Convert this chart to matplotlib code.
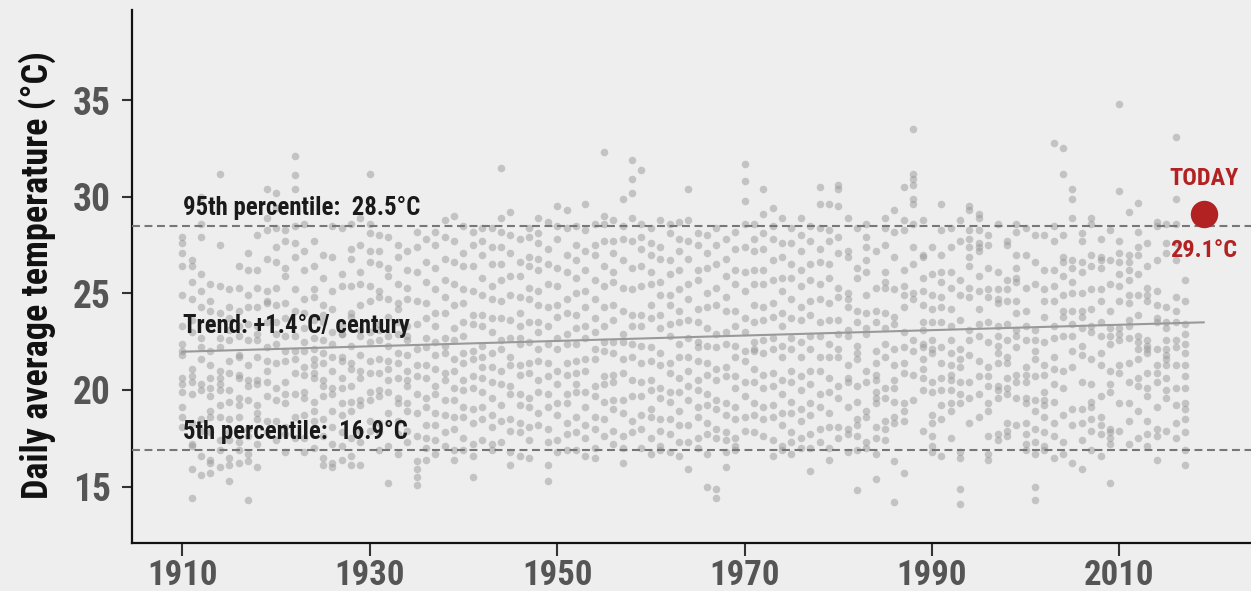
import matplotlib
matplotlib.use("Agg")
import matplotlib.pyplot as plt
import numpy as np

plt.rcParams['font.family'] = ['Roboto Condensed', 'Roboto', 'DejaVu Sans']

# daily average temperature samples, one list per year
years = list(range(1910, 2018))
temps = [
    [27.9, 27.6, 27.1, 26.4, 24.9, 23.3, 22.0, 21.8, 20.6, 20.3, 19.1, 18.6, 18.1, 22.4, 19.9],
    [14.4, 17.2, 18.3, 19.8, 20.4, 21.1, 23.0, 23.6, 24.7, 25.6, 26.7, 26.4, 20.7, 15.9, 17.1],
    [30.0, 28.6, 27.9, 26.0, 25.1, 24.3, 21.6, 20.3, 20.0, 18.5, 17.9, 15.6, 16.6, 22.7, 22.2],
    [25.5, 24.6, 24.1, 22.0, 20.6, 19.7, 18.9, 18.6, 17.8, 16.4, 15.7, 16.2, 23.4, 21.3, 20.1],
    [31.2, 27.5, 25.4, 24.0, 22.7, 21.0, 20.6, 20.3, 19.2, 18.6, 17.4, 16.9, 16.0, 22.2, 20.0],
    [25.2, 23.7, 23.1, 21.5, 20.9, 20.0, 19.4, 17.8, 17.4, 16.5, 15.3, 16.1, 22.6, 18.5, 24.3],
    [26.4, 25.3, 23.3, 22.8, 21.8, 20.8, 20.6, 19.6, 19.2, 18.6, 17.3, 16.9, 16.2, 24.1, 21.7],
    [27.1, 26.2, 24.9, 24.3, 22.6, 21.3, 20.5, 19.5, 18.0, 17.6, 16.7, 16.3, 14.3, 23.4, 20.2],
    [28.0, 26.2, 25.3, 24.3, 23.3, 22.6, 21.7, 20.5, 20.3, 19.2, 18.8, 18.5, 17.2, 16.0, 22.9],
    [30.4, 28.9, 28.3, 26.8, 25.1, 24.6, 23.5, 22.2, 21.5, 20.4, 19.7, 18.4, 17.8, 21.0, 24.5],
    [30.2, 29.4, 28.4, 27.4, 26.6, 25.3, 24.4, 23.5, 22.4, 21.4, 20.1, 19.5, 18.4, 17.4, 22.9],
    [28.3, 27.7, 26.3, 25.9, 24.5, 22.8, 22.0, 21.5, 20.4, 19.8, 19.3, 18.1, 17.7, 16.8, 23.7],
    [32.1, 31.1, 30.4, 28.5, 27.6, 26.9, 25.2, 24.1, 22.8, 22.0, 20.9, 19.8, 18.6, 17.5, 21.6],
    [28.6, 27.2, 26.2, 24.7, 24.0, 23.2, 22.0, 21.2, 20.8, 19.9, 19.6, 18.7, 17.5, 16.8, 22.5],
    [27.7, 26.4, 25.2, 24.8, 23.6, 22.7, 21.3, 20.9, 20.6, 19.4, 18.9, 18.4, 17.0, 22.1, 21.6],
    [27.0, 25.8, 24.4, 23.9, 23.5, 22.6, 21.9, 21.4, 20.2, 19.7, 18.5, 17.6, 16.5, 16.1, 20.5],
    [28.5, 26.9, 25.1, 24.2, 23.0, 22.4, 21.0, 20.1, 19.8, 18.9, 18.1, 17.2, 16.2, 16.0, 21.7],
    [28.4, 26.0, 25.4, 23.3, 22.9, 21.7, 21.5, 20.6, 20.1, 19.3, 18.7, 17.8, 17.1, 16.4, 22.9],
    [28.6, 27.3, 26.8, 25.4, 24.0, 23.8, 22.3, 21.4, 21.1, 20.2, 19.4, 18.9, 17.5, 16.6, 16.1],
    [28.9, 27.5, 26.1, 25.5, 24.4, 23.1, 22.8, 21.8, 21.0, 20.6, 19.5, 19.2, 17.9, 17.3, 16.1],
    [31.2, 28.6, 28.1, 27.2, 26.6, 25.4, 24.6, 23.0, 22.5, 21.5, 20.9, 19.9, 19.5, 18.4, 17.9],
    [28.0, 27.2, 26.5, 25.1, 24.8, 23.4, 22.6, 21.6, 20.9, 20.0, 19.7, 18.3, 17.8, 16.9, 23.1],
    [27.9, 26.3, 25.9, 24.7, 23.8, 22.8, 22.3, 21.5, 20.5, 19.9, 18.8, 18.3, 17.1, 15.2, 21.1],
    [27.5, 26.9, 25.5, 24.5, 23.5, 22.9, 21.9, 21.4, 20.6, 19.6, 19.3, 18.4, 17.7, 16.7, 24.2],
    [27.2, 26.2, 25.3, 24.7, 23.3, 22.6, 21.8, 21.0, 20.5, 19.3, 18.9, 17.9, 17.3, 22.8, 20.2],
    [28.2, 27.4, 26.1, 24.6, 23.4, 22.1, 21.3, 20.7, 19.8, 18.8, 17.6, 16.3, 15.9, 15.5, 15.1],
    [27.8, 26.6, 25.6, 24.5, 23.7, 22.7, 22.2, 21.3, 20.6, 19.6, 19.1, 18.2, 17.5, 17.0, 16.4],
    [28.2, 27.5, 26.3, 25.2, 24.0, 23.3, 22.5, 21.8, 21.1, 20.2, 19.8, 18.8, 18.2, 17.4, 16.7],
    [28.8, 27.9, 26.8, 25.7, 24.8, 24.0, 22.7, 21.9, 20.9, 20.5, 19.5, 18.7, 17.8, 17.1, 22.3],
    [29.0, 27.7, 26.6, 25.5, 24.4, 23.2, 22.6, 21.6, 21.0, 20.1, 19.5, 18.6, 18.0, 16.9, 16.4],
    [28.5, 27.1, 26.4, 25.2, 24.5, 23.5, 22.8, 21.9, 21.4, 20.5, 20.0, 19.1, 18.6, 17.5, 16.9],
    [28.2, 27.5, 26.4, 25.1, 23.9, 23.4, 22.0, 21.6, 20.7, 20.1, 19.0, 18.3, 17.2, 16.6, 15.5],
    [28.4, 27.7, 27.0, 25.8, 24.9, 23.9, 23.3, 22.3, 21.7, 20.6, 19.9, 19.1, 18.5, 17.4, 21.2],
    [28.4, 27.4, 26.5, 25.4, 24.7, 23.7, 23.0, 21.9, 21.2, 20.4, 19.6, 18.7, 18.1, 17.2, 16.9],
    [31.5, 28.9, 28.2, 27.4, 26.5, 25.7, 24.6, 23.7, 22.6, 22.1, 21.0, 20.3, 19.2, 18.4, 17.3],
    [29.2, 28.0, 27.1, 25.9, 24.9, 23.6, 22.7, 21.7, 21.3, 20.2, 19.8, 18.5, 17.9, 16.8, 16.1],
    [27.8, 26.6, 25.9, 24.8, 24.0, 22.7, 22.4, 21.3, 20.8, 19.8, 19.2, 18.3, 17.8, 16.6, 23.3],
    [28.4, 27.9, 26.9, 26.4, 25.3, 24.7, 23.5, 22.5, 21.4, 20.9, 19.6, 19.1, 18.1, 17.4, 16.5],
    [28.9, 28.1, 27.6, 26.8, 26.2, 25.1, 24.4, 23.5, 23.0, 22.1, 21.5, 20.5, 19.9, 18.8, 18.2],
    [28.7, 27.3, 26.5, 25.5, 24.3, 23.3, 22.4, 21.4, 20.7, 19.8, 19.1, 18.0, 17.3, 16.1, 15.3],
    [29.5, 28.5, 27.8, 26.3, 25.4, 24.4, 23.8, 22.7, 22.1, 21.0, 20.3, 19.3, 18.7, 17.4, 16.8],
    [29.3, 28.4, 27.0, 26.1, 24.7, 24.0, 22.9, 22.4, 21.4, 20.8, 19.8, 19.3, 18.3, 17.7, 16.9],
    [28.5, 27.5, 26.7, 25.8, 25.0, 23.9, 23.2, 22.4, 21.5, 20.3, 19.9, 18.6, 17.8, 16.9, 20.9],
    [29.6, 28.3, 27.2, 26.2, 25.1, 24.3, 23.3, 22.7, 21.6, 21.0, 19.9, 19.1, 18.2, 17.5, 16.6],
    [28.6, 27.5, 27.0, 25.7, 24.7, 23.7, 23.0, 22.1, 21.6, 20.2, 19.7, 18.6, 18.0, 17.0, 16.5],
    [32.3, 29.0, 28.6, 27.7, 26.4, 25.4, 24.3, 23.3, 22.5, 22.0, 20.7, 20.3, 19.4, 18.5, 17.6],
    [28.8, 27.7, 27.1, 26.1, 25.6, 24.4, 23.6, 22.5, 21.9, 20.8, 20.4, 19.5, 19.0, 17.9, 17.2],
    [29.9, 28.5, 27.8, 26.7, 25.3, 24.1, 22.9, 22.5, 21.6, 20.9, 19.5, 18.8, 17.6, 17.0, 16.2],
    [31.9, 30.9, 30.2, 28.9, 27.7, 26.3, 25.2, 23.9, 23.3, 22.4, 21.7, 20.5, 19.7, 18.4, 17.8],
    [31.4, 28.6, 27.9, 27.3, 26.4, 25.4, 23.9, 23.3, 22.3, 21.4, 20.4, 19.7, 18.7, 18.0, 17.0],
    [28.4, 27.6, 27.0, 26.1, 25.5, 24.4, 23.7, 22.2, 21.5, 20.5, 20.0, 19.0, 18.6, 17.5, 16.7],
    [28.8, 27.4, 26.8, 25.6, 24.9, 23.9, 23.2, 21.9, 21.3, 20.1, 19.6, 18.5, 17.9, 17.1, 16.9],
    [28.6, 28.1, 26.7, 26.0, 24.9, 24.4, 23.4, 22.8, 21.4, 20.9, 19.9, 19.4, 18.5, 17.7, 16.8],
    [28.7, 27.8, 27.2, 26.2, 25.2, 24.1, 23.5, 22.4, 21.7, 20.6, 19.9, 18.9, 18.2, 17.3, 16.6],
    [30.4, 28.8, 27.7, 26.8, 25.5, 24.7, 23.6, 22.7, 21.7, 21.0, 20.2, 19.5, 18.2, 17.3, 15.9],
    [28.1, 27.5, 26.2, 25.7, 24.2, 23.5, 22.5, 21.5, 20.5, 20.0, 19.1, 18.6, 17.5, 17.0, 22.2],
    [28.0, 27.1, 26.3, 25.0, 24.3, 23.2, 22.3, 21.4, 20.8, 19.8, 19.2, 18.3, 17.7, 16.7, 15.0],
    [28.4, 27.5, 26.5, 25.3, 24.4, 22.9, 22.2, 21.1, 20.5, 19.5, 19.0, 18.0, 17.5, 14.9, 14.4],
    [27.8, 26.8, 25.9, 24.8, 24.1, 23.0, 22.4, 21.2, 20.7, 19.3, 18.7, 17.8, 17.4, 16.8, 16.0],
    [28.2, 27.3, 26.2, 25.5, 24.1, 23.3, 22.3, 21.7, 20.7, 20.1, 19.1, 18.5, 17.5, 17.1, 16.9],
    [31.7, 30.8, 29.8, 28.6, 27.4, 26.1, 25.1, 23.7, 23.0, 22.0, 21.5, 20.4, 19.7, 18.6, 17.9],
    [28.6, 27.8, 27.2, 26.2, 25.5, 24.4, 23.5, 22.5, 22.0, 21.1, 20.4, 19.3, 18.7, 17.8, 22.1],
    [30.4, 29.1, 28.1, 27.3, 26.2, 25.5, 24.3, 23.6, 22.6, 21.9, 20.8, 20.1, 19.1, 18.5, 17.6],
    [29.4, 28.5, 27.8, 26.7, 25.7, 24.5, 23.8, 22.7, 22.1, 20.9, 20.2, 19.2, 18.6, 17.4, 16.6],
    [28.9, 27.6, 26.9, 25.8, 25.1, 24.0, 23.3, 22.3, 21.7, 20.5, 19.8, 18.8, 18.2, 17.1, 16.9],
    [28.4, 27.6, 26.5, 25.8, 24.7, 23.7, 22.7, 22.1, 21.0, 20.4, 19.4, 18.8, 17.8, 17.3, 16.7],
    [28.9, 28.0, 27.2, 26.2, 25.4, 24.3, 23.6, 22.5, 21.7, 20.7, 20.0, 19.0, 18.4, 17.5, 17.0],
    [28.5, 27.7, 26.5, 25.7, 24.6, 23.9, 22.8, 22.1, 21.0, 20.3, 19.3, 18.7, 17.7, 17.0, 15.8],
    [30.5, 29.6, 28.4, 27.3, 26.6, 25.5, 24.7, 23.5, 22.8, 21.7, 21.0, 19.8, 19.1, 18.0, 17.3],
    [29.6, 28.3, 27.7, 26.5, 25.8, 24.5, 23.6, 22.4, 21.7, 20.6, 19.9, 18.8, 18.1, 17.0, 16.4],
    [30.6, 30.4, 29.5, 27.9, 27.1, 25.3, 24.8, 23.6, 22.1, 21.7, 20.2, 19.6, 18.1, 17.5, 22.9],
    [28.9, 27.2, 26.9, 25.0, 24.7, 23.1, 22.8, 21.3, 20.6, 20.4, 19.1, 18.0, 17.7, 16.8, 24.3],
    [28.4, 26.3, 25.8, 24.1, 22.3, 21.9, 21.6, 20.2, 19.4, 18.5, 18.2, 17.6, 16.9, 14.8, 23.5],
    [28.6, 27.9, 27.4, 26.7, 26.1, 24.9, 23.2, 22.9, 21.0, 20.4, 18.9, 18.6, 17.3, 17.0, 24.0],
    [27.2, 25.3, 24.1, 22.0, 21.4, 20.8, 20.5, 19.9, 19.6, 19.3, 18.1, 17.5, 16.7, 15.4, 23.5],
    [28.9, 28.4, 27.5, 26.1, 25.3, 24.0, 23.2, 22.4, 21.7, 20.1, 19.6, 18.4, 18.0, 17.4, 25.6],
    [29.3, 28.2, 26.9, 25.2, 23.8, 23.4, 22.1, 21.3, 20.5, 20.1, 19.4, 18.6, 18.3, 16.3, 14.2],
    [30.5, 28.8, 28.3, 26.2, 25.4, 24.9, 23.0, 22.2, 21.4, 20.9, 19.3, 18.9, 18.4, 15.7, 24.3],
    [33.5, 31.2, 30.9, 30.6, 29.9, 29.6, 28.6, 27.4, 26.5, 25.0, 24.7, 22.6, 22.0, 20.8, 19.5],
    [28.8, 27.0, 25.8, 25.1, 24.4, 23.5, 23.1, 22.4, 22.2, 21.6, 21.1, 20.6, 20.0, 17.9, 26.9],
    [27.4, 26.0, 24.9, 24.2, 23.5, 22.1, 21.9, 20.4, 19.9, 18.7, 18.3, 17.6, 17.1, 16.8, 22.6],
    [29.6, 28.3, 27.0, 26.1, 25.6, 24.8, 24.3, 23.5, 21.4, 20.6, 20.0, 19.2, 18.5, 16.6, 22.2],
    [28.4, 27.4, 26.1, 25.3, 24.2, 23.3, 22.6, 21.9, 21.3, 20.8, 20.5, 20.0, 18.9, 17.5, 19.3],
    [28.8, 27.7, 25.7, 24.9, 23.6, 22.1, 21.6, 21.2, 20.4, 19.8, 19.3, 16.8, 16.5, 14.9, 14.1],
    [29.5, 29.3, 28.3, 27.8, 27.4, 26.9, 26.4, 25.3, 24.8, 23.1, 21.8, 20.4, 19.6, 18.3, 22.6],
    [29.1, 28.9, 28.3, 27.6, 27.4, 27.2, 25.9, 25.1, 24.2, 23.4, 22.8, 20.7, 19.8, 18.6, 21.5],
    [28.0, 27.5, 26.3, 24.8, 23.5, 22.5, 21.2, 20.7, 20.2, 19.3, 18.9, 17.6, 16.7, 16.4, 25.2],
    [28.6, 26.1, 25.2, 24.7, 24.5, 23.3, 22.8, 21.9, 21.4, 20.0, 19.6, 17.7, 17.4, 20.2, 22.3],
    [27.7, 27.5, 25.2, 24.6, 23.4, 22.6, 21.4, 20.6, 20.1, 19.8, 18.3, 17.9, 17.6, 21.7, 25.7],
    [28.6, 28.2, 27.0, 26.3, 25.8, 25.6, 24.0, 23.1, 22.2, 20.8, 20.4, 19.6, 18.2, 22.8, 24.6],
    [28.4, 27.0, 25.3, 24.1, 22.6, 21.2, 20.8, 20.4, 19.6, 19.3, 18.3, 17.7, 17.2, 16.9, 23.3],
    [28.0, 26.6, 25.5, 23.1, 22.0, 21.6, 20.7, 19.5, 18.9, 18.0, 17.3, 16.7, 15.0, 14.3, 22.6],
    [28.0, 26.2, 25.2, 24.6, 22.5, 21.3, 20.8, 19.9, 19.5, 19.2, 18.6, 17.8, 17.1, 16.9, 23.8],
    [32.8, 28.5, 27.7, 26.2, 24.6, 23.3, 22.7, 21.7, 21.1, 20.3, 19.4, 18.3, 17.6, 16.5, 25.4],
    [32.5, 31.2, 28.0, 26.9, 26.6, 25.9, 24.9, 24.1, 23.8, 22.8, 21.0, 20.1, 18.7, 17.3, 16.7],
    [30.4, 29.9, 28.9, 26.7, 26.3, 25.6, 25.0, 24.1, 23.4, 22.8, 22.0, 21.2, 19.0, 16.2, 18.2],
    [28.1, 27.7, 26.1, 25.0, 24.1, 23.2, 22.3, 21.8, 20.4, 19.0, 18.3, 17.4, 15.9, 23.8, 26.6],
    [28.9, 28.6, 27.0, 26.4, 25.2, 24.2, 23.3, 23.0, 21.6, 19.4, 19.1, 18.5, 17.9, 16.9, 20.3],
    [27.8, 26.9, 26.7, 26.3, 25.2, 24.6, 22.8, 21.9, 21.3, 19.7, 18.6, 18.2, 17.7, 16.6, 23.5],
    [28.3, 26.7, 25.5, 24.1, 23.2, 22.4, 21.0, 20.3, 19.9, 18.0, 17.8, 17.5, 17.2, 15.2, 22.8],
    [34.8, 30.3, 27.7, 27.1, 26.6, 25.4, 24.6, 23.2, 22.9, 22.6, 21.3, 20.9, 19.3, 17.9, 26.0],
    [29.2, 27.0, 26.6, 26.2, 25.7, 24.5, 23.3, 22.7, 21.4, 20.4, 19.3, 18.4, 17.2, 23.6, 24.9],
    [29.7, 28.2, 27.4, 26.0, 24.9, 23.9, 22.8, 22.5, 22.1, 20.6, 20.2, 18.9, 17.5, 21.6, 27.0],
    [27.6, 26.4, 25.3, 24.9, 24.6, 22.6, 22.3, 21.9, 20.9, 20.1, 19.7, 18.4, 17.7, 17.1, 22.1],
    [28.7, 28.5, 26.7, 25.1, 24.4, 23.7, 22.1, 21.3, 20.9, 20.4, 19.1, 18.0, 17.6, 16.4, 23.5],
    [28.6, 27.6, 27.1, 24.3, 23.5, 22.6, 22.1, 21.8, 21.6, 21.3, 20.6, 20.0, 19.6, 17.9, 23.2],
    [33.1, 29.9, 28.6, 27.6, 26.7, 24.8, 24.1, 23.5, 22.6, 22.2, 21.3, 20.1, 19.2, 18.3, 17.5],
    [25.7, 24.6, 23.4, 22.4, 21.9, 21.3, 20.7, 20.1, 19.3, 19.0, 18.5, 17.8, 16.9, 16.1, 22.9],
]

trend_years = [1910, 2019]
trend_vals = [21.98, 23.50]
p95 = 28.5
p5 = 16.9
today_year = 2019
today_val = 29.1

x = np.concatenate([[yr] * len(v) for yr, v in zip(years, temps)])
y = np.concatenate(temps)

bg = '#eeeeee'
fig = plt.figure(figsize=(12.51, 5.91), dpi=100, facecolor=bg)
ax = fig.add_axes([0.1053, 0.0812, 0.8947, 0.9018])
ax.set_facecolor(bg)

ax.scatter(x, y, s=30, color='#999999', alpha=0.5, linewidths=0, zorder=2)

# percentile lines and trend
ax.axhline(p95, color='#777777', lw=1.5, dashes=(3.8, 2.2), zorder=3)
ax.axhline(p5, color='#777777', lw=1.5, dashes=(3.8, 2.2), zorder=3)
ax.plot(trend_years, trend_vals, color='#999999', lw=1.5, zorder=3)

ax.scatter([today_year], [today_val], s=390, color='#b22222', linewidths=0, zorder=4)
ax.text(today_year, today_val + 1.85, 'TODAY', color='#b22222', fontsize=17.5,
        fontweight='bold', ha='center', va='center')
ax.text(today_year, today_val - 1.9, '29.1°C', color='#b22222', fontsize=17.5,
        fontweight='bold', ha='center', va='center')

ax.text(1910.1, 29.4, '95th percentile:  28.5°C', color='#1a1a1a', fontsize=17.8,
        fontweight='bold', ha='left', va='center')
ax.text(1910.1, 23.3, 'Trend: +1.4°C/ century', color='#1a1a1a', fontsize=17.8,
        fontweight='bold', ha='left', va='center')
ax.text(1910.1, 17.8, '5th percentile:  16.9°C', color='#1a1a1a', fontsize=17.8,
        fontweight='bold', ha='left', va='center')

ax.set_xlim(1904.6, 2024.05)
ax.set_ylim(12.08, 39.66)
ax.set_xticks([1910, 1930, 1950, 1970, 1990, 2010])
ax.set_yticks([15, 20, 25, 30, 35])

for side in ['top', 'right']:
    ax.spines[side].set_visible(False)
for side in ['left', 'bottom']:
    ax.spines[side].set_linewidth(1.6)
    ax.spines[side].set_color('#111111')

ax.tick_params(axis='y', length=7, width=1.5, color='#333333', pad=8,
               labelsize=27, labelcolor='#555555')
ax.tick_params(axis='x', length=9.5, width=1.5, color='#333333', pad=2,
               labelsize=25, labelcolor='#555555')
for lab in ax.get_xticklabels() + ax.get_yticklabels():
    lab.set_fontweight('bold')

fig.text(0.0296, 0.535, 'Daily average temperature (°C)', rotation=90,
         fontsize=26, fontweight='bold', color='#111111', ha='center', va='center')

fig.savefig('out.png', dpi=100, facecolor=bg)
